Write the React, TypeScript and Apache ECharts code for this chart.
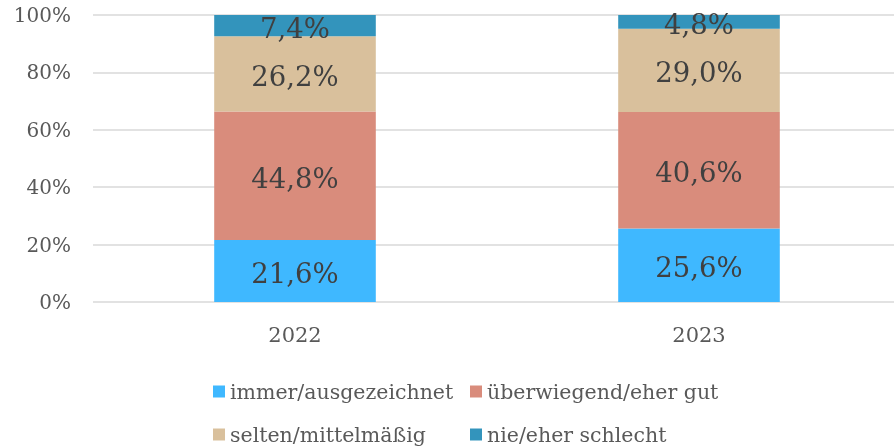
import React, { useEffect, useRef } from "react";
import * as echarts from "echarts";

const categories = ["2022", "2023"];
const seriesNames = ["immer/ausgezeichnet", "überwiegend/eher gut", "selten/mittelmäßig", "nie/eher schlecht"];
const immer = [21.6, 25.6];
const ueberwiegend = [44.8, 40.6];
const selten = [26.2, 29.0];
const nie = [7.4, 4.8];
const yTicks = [0, 20, 40, 60, 80, 100];

const colors = ["#3FB8FF", "#D98C7C", "#D9C09C", "#3394BC"];
const FONT = "DejaVu Serif";

export default function App() {
  const ref = useRef<HTMLDivElement>(null);
  useEffect(() => {
    if (!ref.current) return;
    const chart = echarts.init(ref.current, null, { renderer: "svg" });
    const values = [immer, ueberwiegend, selten, nie];
    const legendPos = [
      { left: 213, top: 381 },
      { left: 470, top: 381 },
      { left: 213, top: 424 },
      { left: 470, top: 424 },
    ];
    chart.setOption({
      animation: false,
      textStyle: { fontFamily: FONT },
      grid: { left: 93, right: 0, top: 15, bottom: 145, containLabel: false },
      legend: seriesNames.map((n, i) => ({
        data: [n],
        left: legendPos[i].left,
        top: legendPos[i].top,
        padding: 0,
        itemWidth: 12,
        itemHeight: 12,
        icon: "rect",
        textStyle: { fontFamily: FONT, fontSize: 20.5, color: "#595959" },
      })),
      xAxis: {
        type: "category",
        data: categories,
        axisLine: { show: false },
        axisTick: { show: false },
        axisLabel: { fontFamily: FONT, fontSize: 21, color: "#595959", margin: 22 },
      },
      yAxis: {
        type: "value",
        min: 0,
        max: 100,
        interval: 20,
        axisLabel: {
          fontFamily: FONT,
          fontSize: 20,
          color: "#595959",
          margin: 22,
          formatter: (v: number) => (yTicks.includes(v) ? v + "%" : ""),
        },
        splitLine: { lineStyle: { color: "#D9D9D9", width: 1.5 } },
        axisLine: { show: false },
        axisTick: { show: false },
      },
      series: seriesNames.map((n, i) => ({
        name: n,
        type: "bar",
        stack: "total",
        barWidth: "40%",
        data: values[i],
        itemStyle: { color: colors[i] },
        label: {
          show: true,
          position: "inside",
          offset: [0, 2],
          fontFamily: FONT,
          fontSize: 27.5,
          color: "#404040",
          formatter: (p: any) => p.value.toFixed(1).replace(".", ",") + "%",
        },
      })),
    });
    return () => chart.dispose();
  }, []);
  return <div ref={ref} style={{ position: "fixed", left: 0, top: 0, width: 901, height: 447 }} />;
}
